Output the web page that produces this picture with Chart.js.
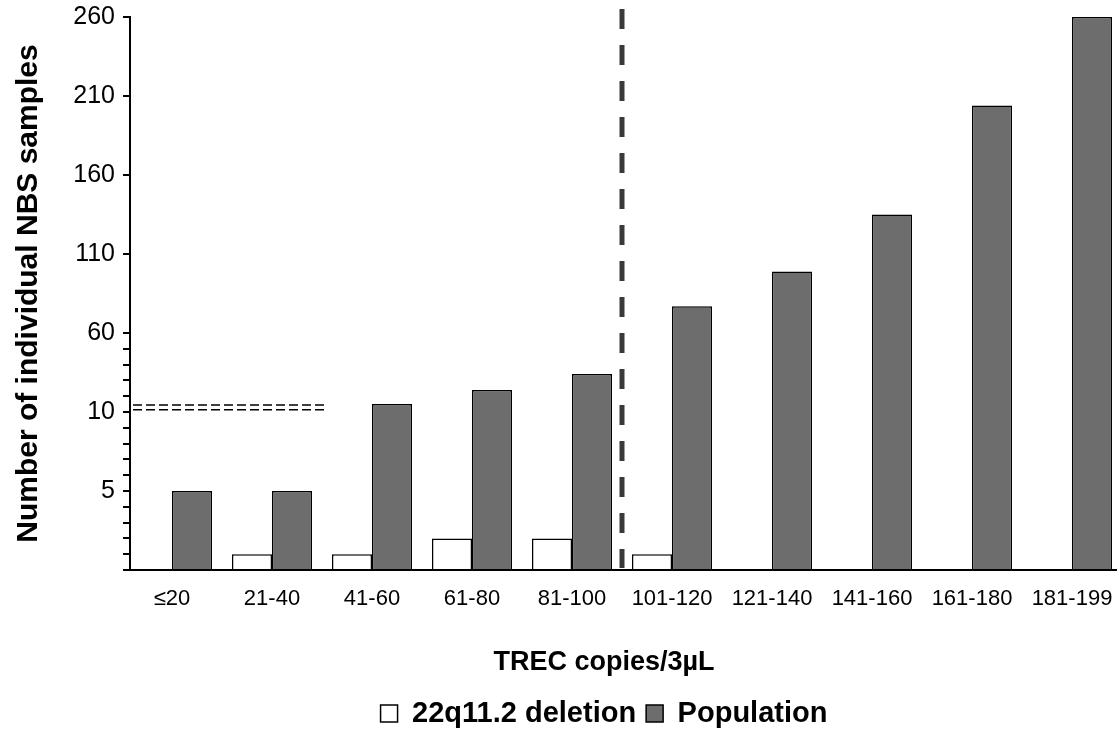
<!DOCTYPE html>
<html>
<head>
<meta charset="utf-8">
<script src="https://cdn.jsdelivr.net/npm/chart.js@4/dist/chart.umd.min.js"></script>
<style>
  html, body { margin: 0; padding: 0; background: #ffffff; }
  #c { display: block; }
</style>
</head>
<body>
<canvas id="c" width="1117" height="731"></canvas>
<script>
// ---- data ----
const categories = ['≤20', '21-40', '41-60', '61-80', '81-100', '101-120', '121-140', '141-160', '161-180', '181-199'];
const deletion22q = [0, 1, 1, 2, 2, 1, 0, 0, 0, 0];
const population = [5, 5, 15, 24, 34, 77, 99, 135, 204, 260];
const seriesNames = ['22q11.2 deletion', 'Population'];
const majorTicks = [5, 10, 60, 110, 160, 210, 260];
const minorTicks = [0, 1, 2, 3, 4, 6, 7, 8, 9, 20, 30, 40, 50];
const xTitle = 'TREC copies/3µL';
const yTitle = 'Number of individual NBS samples';

// broken y axis: values above AXIS_BREAK are compressed by SQUEEZE
const AXIS_BREAK = 10;
const SQUEEZE = 10;
// annotations (in data units)
const DIVIDER_AT = 4.5;          // dashed vertical separator between 81-100 and 101-120
const BREAK_MARKS = [11.5, 14.5]; // double dashed break marker
const BREAK_MARK_END = 1.55;

const fwd = v => (v <= AXIS_BREAK ? v : AXIS_BREAK + (v - AXIS_BREAK) / SQUEEZE);
const inv = t => (t <= AXIS_BREAK ? t : AXIS_BREAK + (t - AXIS_BREAK) * SQUEEZE);

class BrokenLinearScale extends Chart.LinearScale {
  getPixelForValue(value) {
    const a = fwd(this.min), b = fwd(this.max);
    return this.getPixelForDecimal((fwd(value) - a) / (b - a));
  }
  getValueForPixel(pixel) {
    const a = fwd(this.min), b = fwd(this.max);
    return inv(a + this.getDecimalForPixel(pixel) * (b - a));
  }
}
BrokenLinearScale.id = 'brokenLinear';
BrokenLinearScale.defaults = Chart.LinearScale.defaults;
Chart.register(BrokenLinearScale);

Chart.defaults.font.family = "'Liberation Sans', Arial, Helvetica, sans-serif";
Chart.defaults.color = '#000000';

const annotate = {
  id: 'annotate',
  afterUpdate(chart) {
    const lg = chart.legend;
    if (!lg) return;
    const dx = 604 - (lg.left + lg.right) / 2;
    lg.left += dx;
    lg.right += dx;
    lg.adjustHitBoxes();
  },
  afterDatasetsDraw(chart) {
    const { ctx, chartArea, scales: { x, y } } = chart;
    ctx.save();
    // vertical dashed divider
    const xd = x.getPixelForValue(DIVIDER_AT);
    ctx.strokeStyle = '#3a3a3a';
    ctx.lineWidth = 5;
    ctx.setLineDash([20, 16]);
    ctx.beginPath();
    ctx.moveTo(xd, chartArea.top - 8);
    ctx.lineTo(xd, chartArea.bottom - 2);
    ctx.stroke();
    // axis break marker
    ctx.strokeStyle = '#000000';
    ctx.lineWidth = 1.5;
    ctx.setLineDash([9, 4]);
    BREAK_MARKS.forEach(v => {
      const py = y.getPixelForValue(v);
      ctx.beginPath();
      ctx.moveTo(chartArea.left + 3, py);
      ctx.lineTo(x.getPixelForValue(BREAK_MARK_END), py);
      ctx.stroke();
    });
    ctx.restore();
  }
};

new Chart(document.getElementById('c'), {
  type: 'bar',
  data: {
    datasets: [
      {
        label: seriesNames[0],
        data: deletion22q.map((v, i) => ({ x: i, y: v })),
        backgroundColor: '#ffffff',
        borderColor: '#000000',
        borderWidth: 1.5
      },
      {
        label: seriesNames[1],
        data: population.map((v, i) => ({ x: i, y: v })),
        backgroundColor: '#6d6d6d',
        borderColor: '#000000',
        borderWidth: 1.5
      }
    ]
  },
  options: {
    responsive: false,
    animation: false,
    categoryPercentage: 0.8,
    barPercentage: 1.0,
    layout: { padding: { top: 17, bottom: -7, left: 0, right: 0 } },
    scales: {
      x: {
        type: 'linear',
        min: -0.42,
        max: 9.45,
        bounds: 'data',
        offset: false,
        grid: { display: false, drawTicks: false },
        border: { display: true, color: '#000000', width: 2 },
        ticks: {
          autoSkip: false,
          maxRotation: 0,
          minRotation: 0,
          padding: 16,
          color: '#000000',
          font: { size: 22 },
          callback: v => (categories[v] !== undefined ? categories[v] : '')
        },
        afterBuildTicks: axis => { axis.ticks = categories.map((_, i) => ({ value: i })); },
        afterFit: s => { s.height = 79.5; s.paddingLeft = 0; s.paddingRight = 0; }
      },
      y: {
        type: 'brokenLinear',
        min: 0,
        max: 260,
        grid: { display: true, drawOnChartArea: false, drawTicks: true, tickLength: 7, color: '#000000', lineWidth: 2 },
        border: { display: true, color: '#000000', width: 2 },
        ticks: {
          autoSkip: false,
          padding: 8,
          color: '#000000',
          font: { size: 25 },
          callback: v => (majorTicks.includes(v) ? String(v) : '')
        },
        afterBuildTicks: axis => {
          axis.ticks = [...minorTicks, ...majorTicks].sort((a, b) => a - b).map(v => ({ value: v }));
        },
        title: {
          display: true,
          text: yTitle,
          color: '#000000',
          font: { size: 30, weight: 'bold' },
          padding: { top: 11, bottom: 0 }
        },
        afterFit: s => { s.width = 130; s.paddingTop = 0; s.paddingBottom = 0; }
      }
    },
    plugins: {
      tooltip: { enabled: false },
      legend: {
        display: true,
        position: 'bottom',
        align: 'center',
        title: {
          display: true,
          text: xTitle,
          color: '#000000',
          position: 'center',
          font: { size: 27, weight: 'bold', lineHeight: 1 },
          padding: { top: 0, bottom: 12.5 }
        },
        labels: {
          color: '#000000',
          boxWidth: 17,
          boxHeight: 17,
          padding: 10,
          font: { size: 29, weight: 'bold' }
        }
      }
    }
  },
  plugins: [annotate]
});
</script>
</body>
</html>
